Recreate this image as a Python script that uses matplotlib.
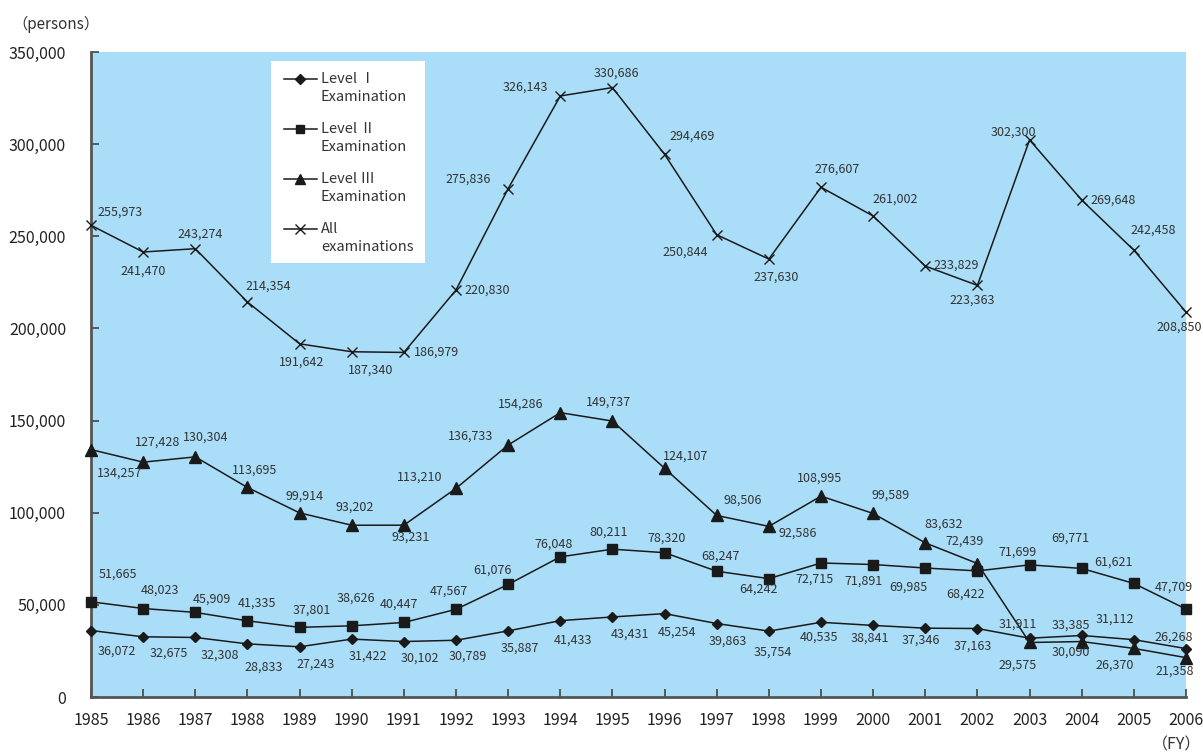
import matplotlib
matplotlib.use("Agg")
import matplotlib.pyplot as plt
from matplotlib.lines import Line2D
from matplotlib.patches import Rectangle

plt.rcParams['font.family'] = ['Noto Sans CJK JP', 'DejaVu Sans']

years = list(range(1985, 2007))
level1 = [36072, 32675, 32308, 28833, 27243, 31422, 30102, 30789, 35887, 41433, 43431,
          45254, 39863, 35754, 40535, 38841, 37346, 37163, 31911, 33385, 31112, 26268]
level2 = [51665, 48023, 45909, 41335, 37801, 38626, 40447, 47567, 61076, 76048, 80211,
          78320, 68247, 64242, 72715, 71891, 69985, 68422, 71699, 69771, 61621, 47709]
level3 = [134257, 127428, 130304, 113695, 99914, 93202, 93231, 113210, 136733, 154286, 149737,
          124107, 98506, 92586, 108995, 99589, 83632, 72439, 29575, 30090, 26370, 21358]
allex = [255973, 241470, 243274, 214354, 191642, 187340, 186979, 220830, 275836, 326143, 330686,
         294469, 250844, 237630, 276607, 261002, 233829, 223363, 302300, 269648, 242458, 208850]
series_labels = ["Level Ⅰ\nExamination", "Level Ⅱ\nExamination",
                 "Level Ⅲ\nExamination", "All\nexaminations"]
yticks = [0, 50000, 100000, 150000, 200000, 250000, 300000, 350000]

# label offsets in pixels (dx right, dy down) from each point
off1 = [(26, 21), (26, 16), (25, 18), (16, 23), (16, 17), (16, 17), (16, 17), (12, 16), (12, 17),
        (13, 19), (18, 17), (12, 19), (11, 18), (4, 21), (-2, 15), (-3, 13), (-4, 12), (-5, 18),
        (-12, -14), (-11, -10), (-19, -21), (-12, -11)]
off2 = [(27, -28), (17, -18), (17, -13), (10, -18), (12, -17), (4, -28), (-5, -18), (-7, -18),
        (-16, -14), (-7, -13), (-4, -17), (2, -15), (4, -15), (-10, 11), (-6, 16), (-10, 17),
        (-17, 19), (-12, 23), (-12, -13), (-11, -30), (-20, -21), (-12, -22)]
off3 = [(29, 24), (14, -20), (10, -20), (7, -17), (5, -17), (3, -18), (7, 12), (-36, -11),
        (-38, -9), (-40, -9), (-4, -19), (21, -12), (26, -15), (29, 7), (-1, -18), (17, -18),
        (18, -19), (-13, -22), (-12, 23), (-11, 11), (-19, 17), (-11, 14)]
off4 = [(29, -13), (0, 19), (5, -15), (21, -16), (2, 18), (19, 18), (33, 0), (31, 0), (-40, -10),
        (-35, -9), (4, -14), (28, -18), (-31, 17), (7, 18), (16, -18), (22, -17), (31, -1),
        (-5, 15), (-16, -8), (31, 0), (19, -20), (-7, 15)]

W, H = 1203, 753
fig = plt.figure(figsize=(W / 100, H / 100), dpi=100)
ax = fig.add_axes([91 / W, 1 - 697 / H, (1186 - 91) / W, (697 - 52) / H])
ax.set_facecolor('#AADEF8')

LC = '#1a1a1a'
styles = [dict(marker='D', ms=5.5), dict(marker='s', ms=7), dict(marker='^', ms=8),
          dict(marker='x', ms=7.5, mew=1)]
leg_ms = [5, 6, 6.5, 7]
datas = [level1, level2, level3, allex]
offs = [off1, off2, off3, off4]
for d, st, off in zip(datas, styles, offs):
    ax.plot(years, d, color=LC, lw=1.1, mfc=LC, mec=LC, clip_on=False, zorder=3, **st)
    for x, v, (dx, dy) in zip(years, d, off):
        ax.annotate(f"{v:,}", (x, v), xytext=(dx * 0.72, -dy * 0.72), textcoords='offset points',
                    ha='center', va='center', fontsize=9, color='#333333', zorder=4,
                    annotation_clip=False)

ax.set_xlim(1985, 2006)
ax.set_ylim(0, 350000)
ax.set_xticks(years)
ax.set_xticklabels([str(y) for y in years], fontsize=11.5, color='#222222')
ax.set_yticks(yticks)
ax.set_yticklabels([f"{v:,}" for v in yticks], fontsize=11.5, color='#222222')
ax.tick_params(axis='x', direction='in', length=6, width=1.2, color='#444444', pad=11)
ax.tick_params(axis='y', direction='in', length=6, width=1.2, color='#444444', pad=18)
for s in ['top', 'right']:
    ax.spines[s].set_visible(False)
for s in ['left', 'bottom']:
    ax.spines[s].set_color('#555555')
    ax.spines[s].set_linewidth(2)

# manual legend (pixel layout converted to figure fractions)
def fx(px):
    return px / W

def fy(py):
    return 1 - py / H

fig.add_artist(Rectangle((fx(271), fy(263)), fx(425) - fx(271), fy(61) - fy(263),
                         transform=fig.transFigure, facecolor='white', edgecolor='none',
                         zorder=5))
for i, (st, lab, ms) in enumerate(zip(styles, series_labels, leg_ms)):
    yc = 79 + i * 50
    fig.add_artist(Line2D([fx(284), fx(317)], [fy(yc), fy(yc)], transform=fig.transFigure,
                          color=LC, lw=1.1, zorder=6))
    mst = dict(st)
    mst['ms'] = ms
    fig.add_artist(Line2D([fx(300)], [fy(yc)], transform=fig.transFigure, color=LC,
                          mfc=LC, mec=LC, lw=0, zorder=7, **mst))
    l1, l2 = lab.split("\n")
    fig.text(fx(321), fy(yc), l1, fontsize=10.5, color='#333333', va='center', ha='left',
             zorder=8)
    fig.text(fx(321), fy(yc + 18), l2, fontsize=10.5, color='#333333', va='center',
             ha='left', zorder=8)

fig.text(fx(12), fy(24), "（persons）", fontsize=11, color='#333333', va='center', ha='left')
fig.text(fx(1201), fy(745), "（FY）", fontsize=11.5, color='#333333', va='center', ha='right')

fig.savefig("out.png", dpi=100)
